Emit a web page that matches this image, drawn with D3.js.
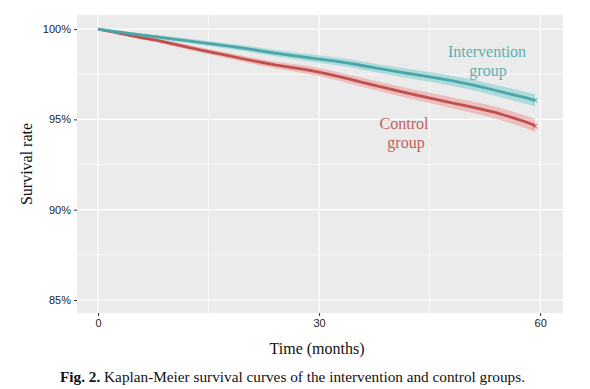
<!DOCTYPE html>
<html>
<head>
<meta charset="utf-8">
<script src="https://cdn.jsdelivr.net/npm/d3@7"></script>
<style>
  body { margin: 0; background: #fff; }
  svg { display: block; }
</style>
</head>
<body>
<div id="chart"></div>
<script>
// months at which the survival estimate is read
var months = [0, 2, 4, 6, 8, 10, 12, 14, 16, 18, 20, 22, 24, 26, 28, 30,
  32, 34, 36, 38, 40, 42, 44, 46, 48, 50, 52, 54, 56, 58, 59.3];

// survival (%) per group
var intervention = [100, 99.88, 99.77, 99.66, 99.57, 99.46, 99.36, 99.25, 99.15, 99.04,
  98.93, 98.8, 98.67, 98.56, 98.45, 98.34, 98.24, 98.12, 97.97, 97.82,
  97.68, 97.55, 97.42, 97.29, 97.14, 96.98, 96.8, 96.6, 96.4, 96.2, 96.05];
var control = [100, 99.84, 99.68, 99.52, 99.38, 99.2, 99.02, 98.84, 98.67, 98.5,
  98.33, 98.17, 98.02, 97.9, 97.77, 97.62, 97.44, 97.24, 97.04, 96.84,
  96.65, 96.46, 96.28, 96.1, 95.92, 95.75, 95.57, 95.37, 95.13, 94.87, 94.66];

// half width of the 95% confidence band (%)
var interventionCI = [0, 0.04, 0.07, 0.09, 0.1, 0.11, 0.12, 0.13, 0.14, 0.15, 0.16, 0.17,
  0.18, 0.19, 0.2, 0.21, 0.22, 0.22, 0.23, 0.24, 0.25, 0.26, 0.26, 0.27, 0.28,
  0.29, 0.3, 0.31, 0.32, 0.33, 0.34];
var controlCI = [0, 0.04, 0.07, 0.09, 0.11, 0.12, 0.13, 0.14, 0.15, 0.16, 0.17, 0.18,
  0.19, 0.2, 0.21, 0.22, 0.23, 0.24, 0.25, 0.26, 0.27, 0.27, 0.28, 0.29, 0.3,
  0.31, 0.32, 0.33, 0.34, 0.35, 0.36];

var xTicks = [0, 30, 60];
var xMinor = [15, 45];
var yTicks = [85, 90, 95, 100];
var yMinor = [87.5, 92.5, 97.5];

var margin = {top: 15, right: 27, bottom: 76, left: 77},
    width = 590 - margin.left - margin.right,
    height = 389 - margin.top - margin.bottom;

var x = d3.scaleLinear().domain([-2.85, 63.1]).range([0, width]);
var y = d3.scaleLinear().domain([84.28, 100.78]).range([height, 0]);

var svg = d3.select("#chart").append("svg")
    .attr("width", 590)
    .attr("height", 389);

var g = svg.append("g")
    .attr("transform", "translate(" + margin.left + "," + margin.top + ")");

// panel
g.append("rect")
    .attr("width", width)
    .attr("height", height)
    .attr("fill", "#ebebeb");

// minor grid
g.selectAll(".xminor").data(xMinor).enter().append("line")
    .attr("x1", d => x(d)).attr("x2", d => x(d))
    .attr("y1", 0).attr("y2", height)
    .attr("stroke", "#fff").attr("stroke-width", 0.6);
g.selectAll(".yminor").data(yMinor).enter().append("line")
    .attr("y1", d => y(d)).attr("y2", d => y(d))
    .attr("x1", 0).attr("x2", width)
    .attr("stroke", "#fff").attr("stroke-width", 0.6);

// major grid
g.selectAll(".xmajor").data(xTicks).enter().append("line")
    .attr("x1", d => x(d)).attr("x2", d => x(d))
    .attr("y1", 0).attr("y2", height)
    .attr("stroke", "#fff").attr("stroke-width", 1.2);
g.selectAll(".ymajor").data(yTicks).enter().append("line")
    .attr("y1", d => y(d)).attr("y2", d => y(d))
    .attr("x1", 0).attr("x2", width)
    .attr("stroke", "#fff").attr("stroke-width", 1.2);

// survival curves
var groups = [
  {name: "Control", values: control, ci: controlCI, line: "#c0504d", band: "rgba(235,120,120,0.4)"},
  {name: "Intervention", values: intervention, ci: interventionCI, line: "#4ba6a7", band: "rgba(70,195,195,0.38)"}
];

var area = d3.area()
    .x(d => x(d.t))
    .y0(d => y(d.s - d.c))
    .y1(d => y(d.s + d.c));

var line = d3.line()
    .x(d => x(d.t))
    .y(d => y(d.s));

groups.forEach(function(grp) {
  var pts = months.map((t, i) => ({t: t, s: grp.values[i], c: grp.ci[i]}));
  g.append("path")
      .attr("d", area(pts))
      .attr("fill", grp.band);
  g.append("path")
      .attr("d", line(pts))
      .attr("fill", "none")
      .attr("stroke", grp.line)
      .attr("stroke-width", 2.8);
  var last = pts[pts.length - 1];
  g.append("text")
      .attr("x", x(last.t))
      .attr("y", y(last.s) + 4)
      .attr("text-anchor", "middle")
      .attr("font-family", "Liberation Sans, Arial, sans-serif")
      .attr("font-size", 11)
      .attr("fill", grp.line)
      .text("×");
});

// axes
var xAxis = g.append("g")
    .attr("transform", "translate(0," + height + ")")
    .call(d3.axisBottom(x).tickValues(xTicks).tickSize(3).tickPadding(3));
var yAxis = g.append("g")
    .call(d3.axisLeft(y).tickValues(yTicks).tickSize(3).tickPadding(3)
      .tickFormat(d => d + "%"));

[xAxis, yAxis].forEach(function(a) {
  a.select(".domain").remove();
  a.selectAll(".tick line").attr("stroke", "#333");
  a.selectAll(".tick text")
      .attr("fill", "#222")
      .attr("font-size", 11)
      .attr("font-family", "Liberation Sans, Arial, sans-serif");
});

// group labels
var serif = "Liberation Serif, Times New Roman, serif";
var labInt = g.append("text")
    .attr("text-anchor", "middle")
    .attr("font-family", serif)
    .attr("font-size", 16)
    .attr("fill", "#5aafb0");
labInt.append("tspan").attr("x", 487 - margin.left).attr("y", 57 - margin.top).text("Intervention");
labInt.append("tspan").attr("x", 488 - margin.left).attr("y", 76 - margin.top).text("group");

var labCtl = g.append("text")
    .attr("text-anchor", "middle")
    .attr("font-family", serif)
    .attr("font-size", 16)
    .attr("fill", "#c2605b");
labCtl.append("tspan").attr("x", 404 - margin.left).attr("y", 129 - margin.top).text("Control");
labCtl.append("tspan").attr("x", 406 - margin.left).attr("y", 148 - margin.top).text("group");

// axis titles
svg.append("text")
    .attr("x", margin.left + x(30) - 2)
    .attr("y", 354)
    .attr("text-anchor", "middle")
    .attr("font-family", serif)
    .attr("font-size", 16)
    .attr("fill", "#111")
    .text("Time (months)");

svg.append("text")
    .attr("transform", "translate(32," + (margin.top + height / 2) + ") rotate(-90)")
    .attr("text-anchor", "middle")
    .attr("font-family", serif)
    .attr("font-size", 16)
    .attr("fill", "#111")
    .text("Survival rate");

// caption
var cap = svg.append("text")
    .attr("x", 60)
    .attr("y", 382)
    .attr("font-family", serif)
    .attr("font-size", 14)
    .attr("textLength", 465)
    .attr("lengthAdjust", "spacingAndGlyphs")
    .attr("fill", "#111");
cap.append("tspan").attr("font-weight", "bold").text("Fig. 2.");
cap.append("tspan").text(" Kaplan-Meier survival curves of the intervention and control groups.");
</script>
</body>
</html>
